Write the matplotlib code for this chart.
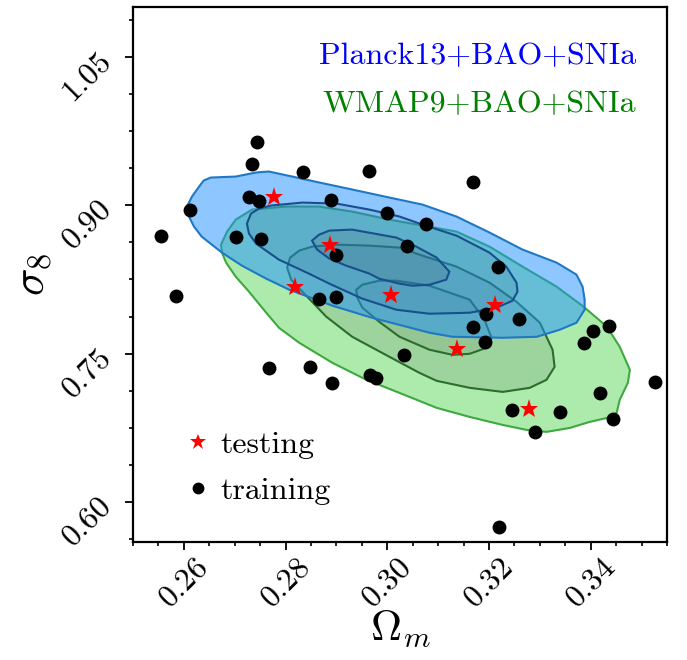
import numpy as np
import matplotlib
matplotlib.use("Agg")
import matplotlib.pyplot as plt
from matplotlib.ticker import AutoMinorLocator, FormatStrFormatter

plt.rcParams['font.family'] = 'serif'
plt.rcParams['font.serif'] = ['cmr10']
plt.rcParams['mathtext.fontset'] = 'cm'
plt.rcParams['axes.unicode_minus'] = False

# training / testing cosmologies
omega_train = [0.2744, 0.2733, 0.2835, 0.2729, 0.2748, 0.2889, 0.2612, 0.2555, 0.2703, 0.2751,
               0.2965, 0.3169, 0.2999, 0.3076, 0.3039, 0.2900, 0.2584, 0.2866, 0.2900, 0.2767,
               0.2848, 0.2891, 0.3218, 0.3194, 0.3258, 0.3169, 0.3436, 0.3405, 0.3386, 0.3193,
               0.3032, 0.2966, 0.2978, 0.3527, 0.3419, 0.3245, 0.3340, 0.3443, 0.3290, 0.3220]
sigma_train = [0.9642, 0.9419, 0.9338, 0.9081, 0.9045, 0.9055, 0.8953, 0.8693, 0.8680, 0.8663,
               0.9344, 0.9233, 0.8923, 0.8812, 0.8592, 0.8494, 0.8083, 0.8053, 0.8069, 0.7357,
               0.7370, 0.7205, 0.8377, 0.7901, 0.7853, 0.7769, 0.7775, 0.7732, 0.7613, 0.7620,
               0.7489, 0.7286, 0.7253, 0.7219, 0.7101, 0.6929, 0.6915, 0.6841, 0.6713, 0.5745]

omega_test = [0.2777, 0.2888, 0.2818, 0.3007, 0.3212, 0.3137, 0.3278]
sigma_test = [0.9081, 0.8602, 0.8177, 0.8089, 0.7990, 0.7547, 0.6945]

# confidence contours (outer, middle, inner), traced outlines
planck_outer_x = [0.2606, 0.2616, 0.2630, 0.2639, 0.2653, 0.2702, 0.2742, 0.2767, 0.2813, 0.2866,
                  0.2931, 0.3004, 0.3069, 0.3136, 0.3201, 0.3266, 0.3333, 0.3372, 0.3384, 0.3388,
                  0.3388, 0.3372, 0.3339, 0.3294, 0.3227, 0.3128, 0.3083, 0.2970, 0.2892, 0.2807,
                  0.2762, 0.2714, 0.2675, 0.2635, 0.2620, 0.2608]
planck_outer_y = [0.8987, 0.9088, 0.9189, 0.9250, 0.9280, 0.9290, 0.9331, 0.9341, 0.9290, 0.9230,
                  0.9159, 0.9078, 0.9007, 0.8886, 0.8724, 0.8552, 0.8420, 0.8299, 0.8177, 0.8046,
                  0.7944, 0.7813, 0.7742, 0.7671, 0.7661, 0.7671, 0.7712, 0.7863, 0.7985, 0.8147,
                  0.8258, 0.8390, 0.8521, 0.8683, 0.8784, 0.8906]
planck_mid_x = [0.2724, 0.2732, 0.2748, 0.2771, 0.2833, 0.2900, 0.2965, 0.3024, 0.3069, 0.3136,
                0.3201, 0.3234, 0.3254, 0.3256, 0.3246, 0.3215, 0.3162, 0.3083, 0.3018, 0.2951,
                0.2886, 0.2846, 0.2787, 0.2742, 0.2728]
planck_mid_y = [0.8815, 0.8916, 0.8967, 0.8997, 0.9027, 0.9017, 0.8956, 0.8886, 0.8805, 0.8693,
                0.8521, 0.8380, 0.8218, 0.8127, 0.8035, 0.7965, 0.7914, 0.7904, 0.7944, 0.8056,
                0.8208, 0.8309, 0.8450, 0.8612, 0.8714]
planck_in_x = [0.2852, 0.2866, 0.2886, 0.2931, 0.3018, 0.3057, 0.3097, 0.3122, 0.3116, 0.3083,
               0.3049, 0.3024, 0.2984, 0.2965, 0.2919, 0.2886, 0.2862]
planck_in_y = [0.8643, 0.8703, 0.8744, 0.8754, 0.8673, 0.8582, 0.8471, 0.8329, 0.8248, 0.8197,
               0.8187, 0.8208, 0.8258, 0.8309, 0.8390, 0.8461, 0.8552]

wmap_outer_x = [0.2673, 0.2685, 0.2702, 0.2734, 0.2801, 0.2866, 0.2931, 0.3004, 0.3136, 0.3201,
                0.3266, 0.3333, 0.3386, 0.3432, 0.3457, 0.3477, 0.3473, 0.3457, 0.3451, 0.3432,
                0.3398, 0.3359, 0.3313, 0.3274, 0.3227, 0.3162, 0.3097, 0.3024, 0.2959, 0.2892,
                0.2827, 0.2787, 0.2762, 0.2728, 0.2702, 0.2683, 0.2675]
wmap_outer_y = [0.8602, 0.8734, 0.8855, 0.8956, 0.8987, 0.8987, 0.8936, 0.8855, 0.8734, 0.8582,
                0.8380, 0.8177, 0.7975, 0.7772, 0.7570, 0.7337, 0.7206, 0.7033, 0.6902, 0.6851,
                0.6811, 0.6750, 0.6710, 0.6730, 0.6780, 0.6861, 0.6953, 0.7104, 0.7236, 0.7408,
                0.7610, 0.7762, 0.7914, 0.8127, 0.8278, 0.8420, 0.8521]
wmap_mid_x = [0.2803, 0.2809, 0.2827, 0.2852, 0.2900, 0.2965, 0.3024, 0.3069, 0.3136, 0.3201,
              0.3254, 0.3300, 0.3325, 0.3329, 0.3313, 0.3280, 0.3227, 0.3162, 0.3097, 0.3063,
              0.3004, 0.2931, 0.2880, 0.2833, 0.2811]
wmap_mid_y = [0.8369, 0.8471, 0.8542, 0.8582, 0.8602, 0.8592, 0.8572, 0.8491, 0.8380, 0.8218,
              0.8025, 0.7813, 0.7540, 0.7367, 0.7236, 0.7155, 0.7114, 0.7155, 0.7226, 0.7307,
              0.7469, 0.7671, 0.7874, 0.8127, 0.8248]
wmap_in_x = [0.2939, 0.2951, 0.2984, 0.3018, 0.3083, 0.3162, 0.3191, 0.3205, 0.3195, 0.3162,
             0.3128, 0.3083, 0.3024, 0.2984, 0.2951, 0.2941]
wmap_in_y = [0.8147, 0.8197, 0.8238, 0.8238, 0.8187, 0.8046, 0.7843, 0.7661, 0.7560, 0.7499,
             0.7489, 0.7540, 0.7671, 0.7823, 0.7965, 0.8066]

fig = plt.figure(figsize=(6.87, 6.60), dpi=100)
ax = fig.add_axes([0.1936, 0.1792, 0.7773, 0.8097])

# WMAP9 first, Planck13 laid over it
ax.fill(wmap_outer_x, wmap_outer_y, facecolor='#32cd32', alpha=0.4, edgecolor='none', zorder=1)
ax.fill(wmap_mid_x, wmap_mid_y, facecolor='#4a5a4a', alpha=0.16, edgecolor='none', zorder=1)
ax.fill(wmap_in_x, wmap_in_y, facecolor='#4a5a4a', alpha=0.1, edgecolor='none', zorder=1)
ax.fill(wmap_outer_x, wmap_outer_y, facecolor='none', edgecolor='#3fa83f', lw=1.5, zorder=2)
ax.fill(wmap_mid_x, wmap_mid_y, facecolor='none', edgecolor='#2b6e2b', lw=1.5, zorder=2)
ax.fill(wmap_in_x, wmap_in_y, facecolor='none', edgecolor='#2b6e2b', lw=1.5, zorder=2)

ax.fill(planck_outer_x, planck_outer_y, facecolor='#1e90ff', alpha=0.5, edgecolor='none', zorder=3)
ax.fill(planck_mid_x, planck_mid_y, facecolor='#204060', alpha=0.1, edgecolor='none', zorder=3)
ax.fill(planck_in_x, planck_in_y, facecolor='#404040', alpha=0.12, edgecolor='none', zorder=3)
ax.fill(planck_outer_x, planck_outer_y, facecolor='none', edgecolor='#1f78c4', lw=1.5, zorder=4)
ax.fill(planck_mid_x, planck_mid_y, facecolor='none', edgecolor='#17508c', lw=1.5, zorder=4)
ax.fill(planck_in_x, planck_in_y, facecolor='none', edgecolor='#17508c', lw=1.5, zorder=4)

ax.plot(omega_test, sigma_test, linestyle='none', marker='*', color='red',
        markersize=14, markeredgewidth=0, label='testing', zorder=6)
ax.plot(omega_train, sigma_train, linestyle='none', marker='o', color='black',
        markersize=10, markeredgewidth=0, label='training', zorder=5)

ax.text(0.942, 0.8935, 'Planck13+BAO+SNIa', transform=ax.transAxes, ha='right',
        va='baseline', color='blue', fontsize=23)
ax.text(0.942, 0.8031, 'WMAP9+BAO+SNIa', transform=ax.transAxes, ha='right',
        va='baseline', color='green', fontsize=23)

leg = ax.legend(loc='lower left', bbox_to_anchor=(0.08, 0.045), frameon=False, fontsize=23,
                handlelength=0.6, handletextpad=0.4, labelspacing=0.55, markerscale=0.85,
                borderaxespad=0.0)

ax.set_xlim(0.25, 0.355)
ax.set_ylim(0.56, 1.10)
ax.set_xticks([0.26, 0.28, 0.30, 0.32, 0.34])
ax.set_yticks([0.60, 0.75, 0.90, 1.05])
ax.xaxis.set_major_formatter(FormatStrFormatter('%.2f'))
ax.yaxis.set_major_formatter(FormatStrFormatter('%.2f'))
ax.xaxis.set_minor_locator(AutoMinorLocator(4))
ax.yaxis.set_minor_locator(AutoMinorLocator(4))
ax.tick_params(which='major', length=6, width=1.3, labelsize=23, pad=6)
ax.tick_params(axis='x', which='major', pad=2)
ax.tick_params(which='minor', length=3, width=1.2)
plt.setp(ax.get_xticklabels(), rotation=45)
plt.setp(ax.get_yticklabels(), rotation=45)
for sp in ax.spines.values():
    sp.set_linewidth(1.6)

ax.set_xlabel(r'$\Omega_m$', fontsize=31, labelpad=-3)
ax.set_ylabel(r'$\sigma_8$', fontsize=33, labelpad=2)

fig.savefig('out.png', dpi=100)
